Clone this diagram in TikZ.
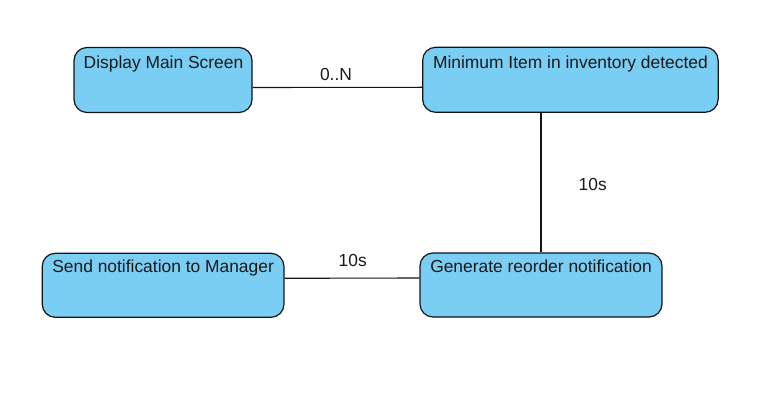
\documentclass[tikz,border=0pt]{standalone}
\usepackage{fontspec}
\setmainfont{Liberation Sans}
\definecolor{boxfill}{RGB}{122,206,244}
\definecolor{edge}{RGB}{20,20,20}
\begin{document}
\begin{tikzpicture}[x=1pt,y=-1pt,
  actbox/.style={draw=edge,line width=1.2pt,fill=boxfill,rounded corners=13pt,inner sep=0pt},
  boxtext/.style={anchor=base,inner sep=0pt,font=\fontsize{17.4}{20}\selectfont,text=black!90},
  lbl/.style={anchor=base,inner sep=0pt,font=\fontsize{17.4}{20}\selectfont,text=black!90},
  conn/.style={draw=edge,line width=1.1pt}]
\useasboundingbox (0,0) rectangle (775,419);
\fill[white] (0,0) rectangle (775,419);
% boxes
\node[actbox,minimum width=178pt,minimum height=65pt] (a) at (163,80) {};
\node[actbox,minimum width=295.5pt,minimum height=65pt] (b) at (570.4,79.8) {};
\node[actbox,minimum width=241.7pt,minimum height=64pt] (c) at (163.1,285.3) {};
\node[actbox,minimum width=242pt,minimum height=64pt] (d) at (541,285) {};
% texts
\node[boxtext] (ta) at (163.5,68.3) {Display Main Screen};
\node[boxtext] (tb) at (570.4,68.3) {Minimum Item in inventory detected};
\node[boxtext] (tc) at (163.1,272.3) {Send notification to Manager};
\node[boxtext] (td) at (541,272.3) {Generate reorder notification};
% connectors
\draw[conn] ([yshift=-7.5pt]a.east) -- ([yshift=-7.5pt]b.west);
\draw[conn] (d.north) -- (d.north |- b.south);
\draw[conn] ([yshift=7pt]c.east) -- ([yshift=7pt]d.west);
% labels
\node[lbl] (l1) at (336,81) {0..N};
\node[lbl] (l2) at (592.7,190.7) {10s};
\node[lbl] (l3) at (352.7,266) {10s};
\end{tikzpicture}
\end{document}
